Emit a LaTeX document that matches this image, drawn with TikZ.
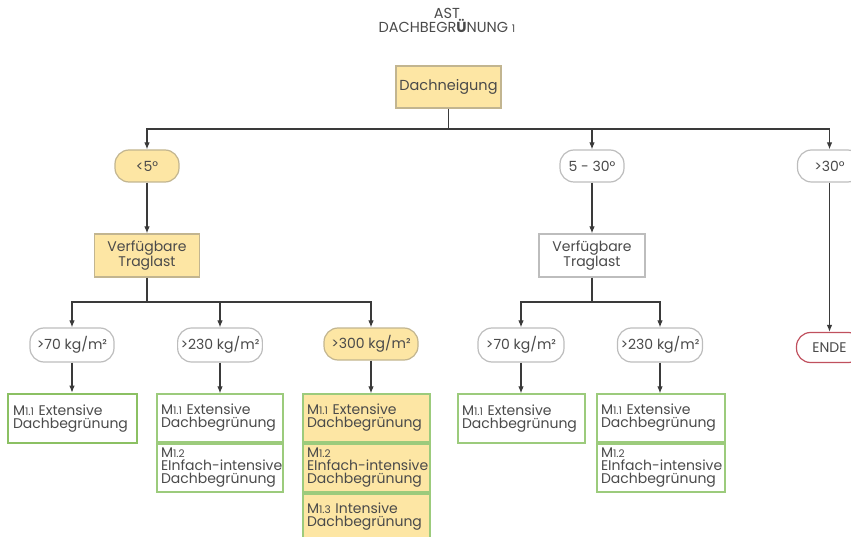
\documentclass[tikz,border=0pt]{standalone}
\usepackage{fontspec}
\setmainfont{Poppins}
\usetikzlibrary{arrows.meta}
\definecolor{txt}{HTML}{4A4A4A}
\definecolor{yel}{HTML}{FDE6A4}
\definecolor{yelb}{HTML}{C2B590}
\definecolor{grb}{HTML}{BDBDBD}
\definecolor{grn}{HTML}{9CCB7C}
\definecolor{grnd}{HTML}{8BC063}
\definecolor{redb}{HTML}{C0505E}
\definecolor{lin}{HTML}{3A3A3A}
\newcommand{\sdig}[1]{{\fontsize{10.5}{10}\selectfont #1}}
\begin{document}
\begin{tikzpicture}[x=1pt,y=-1pt,
  every node/.style={text=txt,font=\fontsize{14}{13}\selectfont,inner sep=3pt},
  boxy/.style={draw=yelb,fill=yel,line width=1.2pt,align=center},
  boxw/.style={draw=grb,fill=white,line width=1.2pt,align=center},
  pill/.style={rounded corners=14pt,minimum height=32pt,line width=1.2pt},
  pilly/.style={pill,draw=yelb,fill=yel},
  pillw/.style={pill,draw=grb,fill=white},
  pillr/.style={pill,draw=redb,fill=white},
  res/.style={draw=grn,line width=1.3pt,align=left,font=\fontsize{14}{13}\selectfont,inner ysep=1.5pt},
  resy/.style={res,fill=yel},
  arr/.style={draw=lin,line width=1.1pt,-{Latex[length=7pt,width=5.5pt]}},
  ln/.style={draw=lin,line width=1.1pt}]
\useasboundingbox (0,0) rectangle (851,537);

% title
\node[align=center,font=\fontsize{14.5}{14}\selectfont] (title) at (447,20)
  {AST\\DACHBEGR{\bfseries Ü}NUNG \sdig{1}};

% level 1
\node[boxy,minimum width=105pt,minimum height=42pt,font=\fontsize{14.5}{14}\selectfont] (dn) at (448.5,87) {Dachneigung};
\coordinate (j1) at (448.5,129);

\node[pilly,minimum width=64pt] (lt5) at (147,166) {<5°};
\node[pillw,minimum width=64pt] (m530) at (592,166) {5 - 30°};
\node[pillw,minimum width=64pt] (gt30) at (829.5,166) {>30°};

\draw[ln] (dn.south) -- (j1);
\draw[arr] (j1) -| (lt5.north);
\draw[arr] (j1) -| (m530.north);
\draw[arr] (j1) -| (gt30.north);

% level 2
\node[boxy,minimum width=105pt,minimum height=43pt] (trL) at (147,255.5) {Verfügbare\\Traglast};
\node[boxw,minimum width=106pt,minimum height=43pt] (trR) at (592,255.5) {Verfügbare\\Traglast};
\node[pillr,minimum width=66pt,minimum height=30pt] (ende) at (829.5,347.5) {ENDE};

\draw[arr] (lt5.south) -- (trL.north);
\draw[arr] (m530.south) -- (trR.north);
\draw[arr] (gt30.south) -- (ende.north);

% level 3
\coordinate (jL) at (147,302);
\coordinate (jR) at (592,302);
\node[pillw,minimum width=84pt,minimum height=34pt] (a70L) at (72,345) {>70 kg/m²};
\node[pillw,minimum width=84pt,minimum height=34pt] (a230L) at (220,345) {>230 kg/m²};
\node[pilly,minimum width=94pt,minimum height=32pt] (a300) at (371,344) {>300 kg/m²};
\node[pillw,minimum width=86pt,minimum height=34pt] (a70R) at (521,345) {>70 kg/m²};
\node[pillw,minimum width=85pt,minimum height=34pt] (a230R) at (660,345) {>230 kg/m²};

\draw[ln] (trL.south) -- (jL);
\draw[arr] (jL) -| (a70L.north);
\draw[arr] (jL) -| (a230L.north);
\draw[arr] (jL) -| (a300.north);
\draw[ln] (trR.south) -- (jR);
\draw[arr] (jR) -| (a70R.north);
\draw[arr] (jR) -| (a230R.north);

% results
\node[res,draw=grnd,line width=2.6pt,minimum width=129pt,minimum height=49pt,text width=119pt] (r1) at (72.5,418.5)
  {M\sdig{1.1} Extensive\\Dachbegrünung};
\node[res,minimum width=126pt,minimum height=48pt,text width=118pt] (r2a) at (220,418)
  {M\sdig{1.1} Extensive\\Dachbegrünung};
\node[res,minimum width=126pt,minimum height=48pt,text width=118pt] (r2b) at (220,468)
  {M\sdig{1.2}\\\mbox{EInfach-intensive}\\Dachbegrünung};
\node[resy,minimum width=127pt,minimum height=48pt,text width=119pt] (r3a) at (366.5,418)
  {M\sdig{1.1} Extensive\\Dachbegrünung};
\node[resy,minimum width=127pt,minimum height=48pt,text width=119pt] (r3b) at (366.5,468)
  {M\sdig{1.2}\\\mbox{EInfach-intensive}\\Dachbegrünung};
\node[resy,minimum width=127pt,minimum height=46pt,text width=119pt] (r3c) at (366.5,517)
  {M\sdig{1.3} Intensive\\Dachbegrünung};
\node[res,minimum width=127pt,minimum height=49pt,text width=119pt] (r4) at (521.5,418.5)
  {M\sdig{1.1} Extensive\\Dachbegrünung};
\node[res,minimum width=128pt,minimum height=48pt,text width=120pt] (r5a) at (661,418)
  {M\sdig{1.1} Extensive\\Dachbegrünung};
\node[res,minimum width=128pt,minimum height=48pt,text width=120pt] (r5b) at (661,468)
  {M\sdig{1.2}\\\mbox{EInfach-intensive}\\Dachbegrünung};

\draw[arr] (a70L.south) -- (a70L.south |- r1.north);
\draw[arr] (a230L.south) -- (a230L.south |- r2a.north);
\draw[arr] (a300.south) -- (a300.south |- r3a.north);
\draw[arr] (a70R.south) -- (a70R.south |- r4.north);
\draw[arr] (a230R.south) -- (a230R.south |- r5a.north);
\end{tikzpicture}
\end{document}
